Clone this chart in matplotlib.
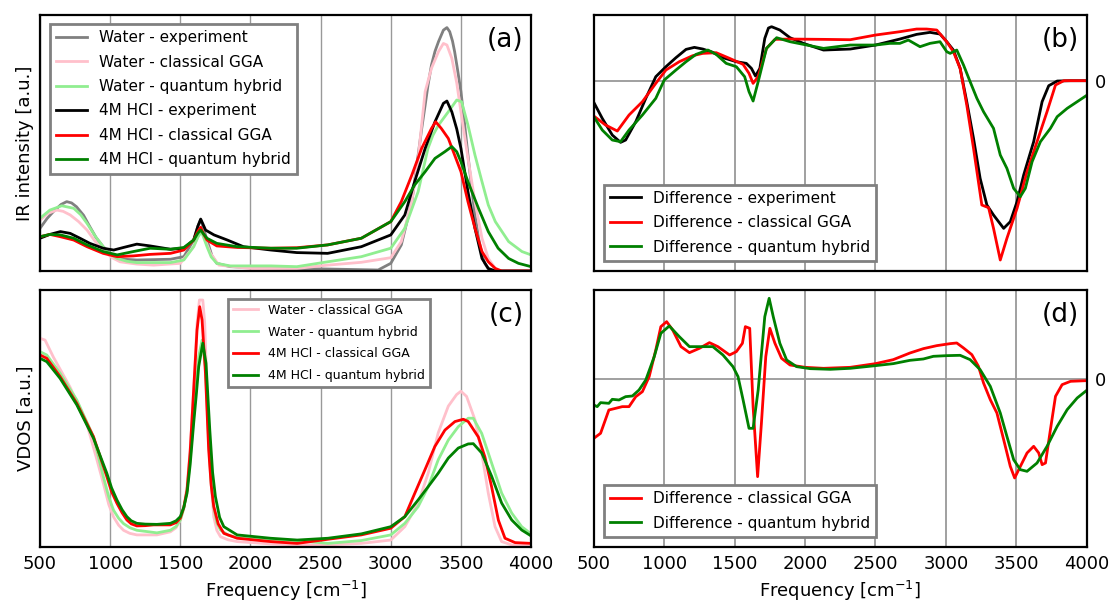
import matplotlib
matplotlib.use("Agg")
import matplotlib.pyplot as plt

# ---- panel (a): IR spectra, intensity in a.u. ----
wexp_f = [500, 550, 595, 650, 690, 725, 760, 810, 855, 900, 950, 1025, 1100, 1190, 1430, 1525, 1595, 1625,
          1645, 1665, 1690, 1725, 1760, 1855, 2000, 2330,
          2910, 3000, 3075, 3150, 3195, 3220, 3245, 3265, 3290, 3315, 3340, 3375, 3400, 3420, 3440, 3455,
          3475, 3500, 3525, 3550, 3575, 3600, 3625, 3650, 3670, 3695, 3745, 4000]
wexp_v = [16.7, 20.5, 23.2, 26.0, 27.1, 26.6, 25.1, 21.8, 17.3, 13.0, 9.5, 5.6, 4.6, 4.3, 4.6, 5.6, 12.1, 17.5,
          20.0, 16.8, 12.1, 6.0, 3.0, 1.7, 1.4, 1.0,
          0.4, 3.0, 10.2, 27.1, 45.3, 55.5, 64.8, 72.5, 80.5, 85.8, 89.6, 94.1, 95.1, 93.5, 89.8, 85.7,
          79.0, 70.1, 58.0, 45.3, 33.0, 21.9, 13.0, 6.3, 3.0, 0.8, 0.0, 0.0]

wgga_f = [500, 560, 620, 665, 715, 775, 835, 890, 950, 1010, 1070, 1190, 1310, 1500, 1595, 1630, 1655, 1685,
          1715, 1775, 2000, 2330,
          2550, 2790, 3000, 3075, 3150, 3195, 3245, 3290, 3340, 3375, 3400, 3435, 3470, 3500, 3550, 3600,
          3650, 3695, 3745, 3790, 4000]
wgga_v = [19.9, 22.6, 23.8, 23.3, 21.9, 19.3, 16.0, 11.8, 8.2, 5.3, 3.6, 2.7, 2.3, 3.0, 9.5, 14.0, 16.0, 11.0,
          6.9, 2.3, 1.0, 1.0,
          2.3, 3.4, 5.2, 11.5, 27.1, 44.0, 70.1, 79.2, 85.7, 88.9, 88.3, 83.1, 73.5, 62.2, 44.0, 27.1,
          12.8, 4.9, 1.0, 0.0, 0.0]

whyb_f = [500, 570, 655, 740, 790, 835, 895, 950, 1000, 1050, 1120, 1190, 1430, 1525, 1595, 1625, 1650, 1670,
          1690, 1720, 1760, 1855, 2145, 2330,
          2550, 2790, 3000, 3100, 3195, 3265, 3300, 3340, 3410, 3470, 3505, 3550, 3600, 3650, 3695, 3745,
          3840, 3935, 4000]
whyb_v = [20.6, 23.8, 25.5, 24.5, 22.0, 18.6, 13.5, 9.5, 6.6, 4.9, 3.8, 3.3, 3.3, 4.3, 9.5, 13.2, 15.4, 12.5,
          9.5, 5.5, 3.0, 2.0, 2.0, 1.7,
          3.6, 5.6, 8.9, 16.7, 31.0, 47.9, 53.0, 57.0, 62.2, 66.8, 66.1, 57.0, 45.3, 34.9, 25.8, 19.3,
          11.5, 7.6, 6.3]

hexp_f = [500, 570, 645, 715, 785, 855, 950, 1025, 1095, 1190, 1285, 1430, 1525, 1595, 1625, 1645, 1660,
          1680, 1740, 1835, 1950, 2145, 2330, 2550, 2790, 3000, 3100, 3170, 3245, 3315, 3375, 3400, 3435,
          3470, 3500, 3550, 3600, 3650, 3695, 3745, 4000]
hexp_v = [12.8, 14.3, 15.4, 14.7, 12.8, 10.8, 8.9, 8.2, 9.2, 10.5, 9.8, 8.5, 8.9, 12.1, 17.5, 20.3, 18.5,
          16.0, 14.1, 12.1, 9.5, 8.2, 7.2, 6.9, 9.5, 14.1, 21.9, 34.9, 47.9, 58.3, 65.5, 66.4, 62.2,
          55.5, 47.9, 31.0, 16.7, 4.9, 1.0, 0.0, 0.0]

hgga_f = [500, 570, 645, 740, 835, 950, 1050, 1165, 1285, 1430, 1525, 1595, 1625, 1645, 1665, 1690, 1760,
          1905, 2145, 2330, 2550, 2790, 3000, 3075, 3150, 3220, 3290, 3320, 3360, 3410, 3455, 3500, 3550,
          3600, 3650, 3695, 3745, 3790, 4000]
hgga_v = [13.4, 14.3, 13.4, 12.1, 9.5, 6.9, 5.6, 5.9, 6.5, 6.9, 8.2, 12.1, 15.5, 17.1, 14.5, 12.1, 9.8,
          9.2, 8.9, 9.1, 10.2, 12.8, 19.3, 27.1, 37.5, 47.9, 55.7, 58.3, 55.7, 51.8, 45.3, 38.8, 27.1,
          16.7, 7.6, 3.6, 1.0, 0.0, 0.0]

hhyb_f = [500, 570, 645, 740, 835, 950, 1050, 1165, 1285, 1430, 1525, 1595, 1625, 1645, 1665, 1690, 1760,
          1905, 2145, 2330, 2550, 2790, 3000, 3100, 3170, 3245, 3315, 3385, 3435, 3470, 3500, 3550, 3625,
          3695, 3765, 3840, 3910, 4000]
hhyb_v = [13.4, 14.3, 14.1, 12.8, 10.2, 7.6, 6.3, 7.6, 8.9, 8.5, 9.2, 12.1, 14.8, 16.0, 14.5, 12.8, 10.8,
          9.5, 8.9, 8.9, 10.2, 12.8, 19.3, 27.1, 33.6, 38.8, 44.0, 46.6, 48.6, 46.6, 42.7, 34.9, 24.5,
          15.4, 8.9, 4.9, 3.0, 1.7]

# ---- panel (b): IR difference HCl - water ----
dexp_f = [500, 560, 631, 690, 726, 798, 869, 940, 1012, 1083, 1155, 1214, 1274, 1345, 1417, 1512, 1583,
          1619, 1648, 1679, 1714, 1740, 1762, 1821, 1893, 1988, 2131, 2321, 2500, 2673, 2792, 2887, 2958,
          3006, 3053, 3101, 3148, 3196, 3243, 3291, 3338, 3410, 3457, 3505, 3552, 3623, 3683, 3730,
          3790, 3885, 4000]
dexp_v = [-0.65, -1.13, -1.63, -1.85, -1.78, -1.23, -0.53, 0.12, 0.42, 0.69, 0.94, 1.00, 0.95, 0.85,
          0.69, 0.57, 0.52, 0.37, 0.14, 0.37, 1.27, 1.58, 1.62, 1.52, 1.29, 1.12, 0.92, 0.95, 1.07, 1.25,
          1.39, 1.45, 1.40, 1.17, 0.92, 0.37, -0.63, -1.73, -2.93, -3.73, -4.03, -4.43, -4.23, -3.63,
          -2.83, -1.83, -0.63, -0.15, -0.01, 0.0, 0.0]

dgga_f = [500, 583, 667, 750, 845, 940, 1012, 1107, 1202, 1274, 1369, 1464, 1560, 1602, 1631, 1667, 1726,
          1786, 1893, 2131, 2321, 2500, 2673, 2792, 2863, 2935, 3006, 3053, 3101, 3148, 3196, 3255,
          3303, 3338, 3386, 3433, 3505, 3576, 3647, 3718, 3778, 3837, 4000]
dgga_v = [-1.06, -1.33, -1.51, -1.03, -0.63, -0.08, 0.32, 0.57, 0.75, 0.82, 0.84, 0.67, 0.49, 0.22,
          -0.08, 0.12, 0.97, 1.24, 1.25, 1.24, 1.23, 1.37, 1.47, 1.55, 1.55, 1.52, 1.17, 0.87, 0.37,
          -0.73, -2.03, -3.73, -3.81, -4.43, -5.38, -4.73, -3.83, -2.73, -1.83, -0.93, -0.13, 0.0, 0.0]

dhyb_f = [500, 560, 631, 690, 750, 845, 940, 1000, 1083, 1155, 1226, 1310, 1369, 1440, 1512, 1571, 1602,
          1631, 1667, 1726, 1798, 1893, 1988, 2131, 2321, 2500, 2602, 2673, 2733, 2816, 2887, 2958,
          3006, 3030, 3077, 3125, 3172, 3220, 3267, 3338, 3386, 3433, 3481, 3528, 3564, 3612, 3671,
          3742, 3790, 3861, 3932, 3996]
dhyb_v = [-1.08, -1.48, -1.78, -1.83, -1.48, -1.03, -0.53, 0.02, 0.32, 0.57, 0.79, 0.92, 0.79, 0.52,
          0.42, 0.12, -0.33, -0.61, -0.03, 0.97, 1.29, 1.17, 1.09, 0.97, 1.07, 1.07, 1.12, 1.12, 1.22,
          1.02, 1.12, 1.17, 0.87, 0.82, 0.92, 0.47, -0.03, -0.53, -0.93, -1.43, -2.23, -2.63, -3.23,
          -3.48, -3.23, -2.43, -1.83, -1.43, -1.08, -0.83, -0.63, -0.45]

# ---- panel (c): VDOS ----
vwgga_f = [500, 536, 595, 714, 833, 900, 952, 990, 1024, 1060, 1095, 1140, 1190, 1333, 1429, 1470, 1500, 1525,
           1548, 1570, 1595, 1619, 1636, 1660, 1674, 1690, 1714, 1738, 1760, 1786, 1840, 1905, 2143, 2333,
           2552, 2790, 3000, 3100, 3195, 3267, 3338, 3410, 3469, 3500, 3540, 3600, 3648, 3695, 3743,
           3790, 3862, 4000]
vwgga_v = [81.2, 80.5, 73.9, 62.2, 48.0, 35.0, 24.6, 16.5, 11.7, 8.5, 6.5, 5.3, 4.7, 4.7, 5.9, 7.5, 10.5, 15.5,
           23.5, 38.0, 61.1, 87.0, 96.1, 96.1, 87.0, 61.1, 28.7, 11.8, 6.5, 4.0, 2.8, 2.1, 1.2, 0.8,
           0.8, 1.4, 2.7, 7.9, 17.0, 28.8, 44.4, 54.8, 59.3, 60.6, 58.6, 49.5, 36.6, 20.9, 7.9,
           2.1, 0.8, 0.5]

vwhyb_f = [500, 548, 643, 762, 881, 952, 990, 1024, 1060, 1095, 1140, 1190, 1333, 1429, 1470, 1500, 1525,
           1548, 1570, 1595, 1615, 1631, 1655, 1679, 1702, 1720, 1738, 1760, 1786, 1840, 1905, 2143, 2333,
           2552, 2790, 3000, 3100, 3195, 3267, 3338, 3410, 3481, 3552, 3588, 3648, 3719, 3790, 3862,
           3933, 4000]
vwhyb_v = [76.0, 74.7, 67.6, 57.2, 42.9, 27.2, 19.5, 14.3, 11.2, 9.1, 7.5, 6.5, 5.5, 6.5, 8.0, 10.5, 15.0,
           22.2, 34.0, 50.7, 64.0, 74.1, 80.5, 70.2, 41.6, 25.0, 15.6, 9.5, 6.6, 4.6, 3.7, 2.7, 2.5,
           1.4, 2.5, 4.7, 9.2, 15.7, 23.5, 33.9, 41.6, 46.8, 50.1, 50.1, 44.2, 32.6, 21.0, 13.2,
           7.9, 5.1]

vhgga_f = [500, 548, 643, 762, 881, 976, 1010, 1048, 1085, 1119, 1150, 1190, 1250, 1310, 1429, 1470, 1500,
           1525, 1548, 1570, 1595, 1619, 1638, 1655, 1679, 1702, 1720, 1738, 1770, 1810, 1905, 2143, 2333,
           2552, 2790, 3000, 3100, 3171, 3243, 3314, 3386, 3457, 3517, 3552, 3624, 3671, 3719, 3767,
           3814, 3886, 4000]
vhgga_v = [74.7, 73.4, 66.3, 55.9, 42.9, 27.4, 21.5, 17.0, 13.3, 10.5, 9.0, 8.2, 8.3, 8.6, 8.6, 9.5, 11.2,
           15.5, 22.2, 37.0, 61.1, 84.4, 93.5, 88.3, 67.6, 37.8, 24.0, 15.8, 9.0, 5.3, 3.4, 2.1, 1.4,
           3.0, 4.7, 7.3, 11.8, 20.9, 30.0, 39.1, 45.5, 48.8, 49.7, 48.8, 42.8, 35.0, 23.3, 10.4,
           3.4, 1.7, 1.4]

vhhyb_f = [500, 548, 643, 762, 881, 976, 1010, 1048, 1085, 1119, 1150, 1190, 1250, 1333, 1429, 1470, 1500,
           1525, 1548, 1570, 1595, 1615, 1631, 1660, 1683, 1710, 1730, 1750, 1780, 1810, 1905, 2143, 2333,
           2552, 2790, 3000, 3100, 3195, 3267, 3338, 3410, 3481, 3552, 3588, 3648, 3719, 3790, 3862,
           3933, 4000]
vhhyb_v = [73.4, 72.1, 65.6, 55.3, 42.3, 28.7, 23.0, 18.3, 14.5, 11.8, 10.2, 9.2, 8.9, 8.8, 9.2, 10.2, 11.8,
           15.5, 21.0, 32.0, 48.1, 60.0, 70.2, 79.3, 71.5, 45.5, 29.0, 19.6, 11.5, 7.9, 4.7, 3.4, 2.7,
           3.4, 5.1, 7.9, 11.8, 18.3, 23.5, 28.7, 34.6, 38.5, 40.1, 40.2, 36.6, 27.5, 17.1, 10.5,
           6.6, 4.3]

# ---- panel (d): VDOS difference HCl - water ----
vdgga_f = [500, 548, 607, 655, 702, 750, 798, 845, 893, 940, 976, 1017, 1060, 1119, 1179, 1250, 1321, 1381,
           1464, 1512, 1555, 1576, 1607, 1631, 1663, 1690, 1721, 1750, 1786, 1833, 1893, 2000, 2131,
           2321, 2500, 2626, 2745, 2840, 2935, 3030, 3077, 3125, 3184, 3231, 3267, 3315, 3362, 3410,
           3457, 3488, 3517, 3576, 3623, 3659, 3683, 3707, 3742, 3778, 3825, 3885, 4000]
vdgga_v = [-1.77, -1.62, -0.92, -0.87, -0.82, -0.82, -0.52, -0.37, 0.08, 0.88, 1.58, 1.73, 1.48, 0.98,
           0.80, 0.93, 1.10, 0.98, 0.73, 0.83, 1.08, 1.58, 1.53, -0.82, -2.92, -1.32, 0.68, 1.53, 1.08,
           0.63, 0.43, 0.36, 0.33, 0.36, 0.47, 0.59, 0.79, 0.92, 1.01, 1.07, 1.09, 0.94, 0.74, 0.39,
           -0.11, -0.61, -1.01, -1.81, -2.61, -2.96, -2.71, -2.21, -2.01, -2.21, -2.56, -2.51, -1.51,
           -0.51, -0.16, -0.06, -0.04]

vdhyb_f = [500, 524, 548, 607, 631, 679, 726, 774, 821, 869, 929, 976, 1036, 1107, 1179, 1274, 1345, 1417,
           1488, 1524, 1560, 1602, 1631, 1667, 1714, 1745, 1774, 1821, 1869, 1940, 2036, 2179, 2321,
           2500, 2626, 2745, 2840, 2911, 3006, 3101, 3172, 3243, 3315, 3386, 3433, 3481, 3528, 3576,
           3647, 3718, 3790, 3861, 3932, 4000]
vdhyb_v = [-0.77, -0.82, -0.70, -0.72, -0.60, -0.62, -0.52, -0.50, -0.32, -0.02, 0.68, 1.38, 1.60, 1.28,
           0.98, 0.98, 0.98, 0.73, 0.38, 0.08, -0.62, -1.47, -1.47, -0.32, 1.88, 2.43, 1.88, 1.08, 0.58,
           0.38, 0.32, 0.30, 0.33, 0.41, 0.47, 0.57, 0.61, 0.69, 0.71, 0.72, 0.59, 0.29, -0.21, -1.01,
           -1.71, -2.41, -2.71, -2.76, -2.51, -2.01, -1.41, -0.91, -0.56, -0.33]

freq_ticks = [500, 1000, 1500, 2000, 2500, 3000, 3500, 4000]

fig = plt.figure(figsize=(11.12, 6.04), dpi=100)
ax_a = fig.add_axes([0.036, 0.5513, 0.4416, 0.4238])
ax_b = fig.add_axes([0.534, 0.5513, 0.4433, 0.4238])
ax_c = fig.add_axes([0.036, 0.0944, 0.4416, 0.4255])
ax_d = fig.add_axes([0.534, 0.0944, 0.4433, 0.4255])

lw = 2

ax_a.plot(wexp_f, wexp_v, color="gray", lw=lw, label="Water - experiment")
ax_a.plot(wgga_f, wgga_v, color="pink", lw=lw, label="Water - classical GGA")
ax_a.plot(whyb_f, whyb_v, color="lightgreen", lw=lw, label="Water - quantum hybrid")
ax_a.plot(hexp_f, hexp_v, color="black", lw=lw, label="4M HCl - experiment")
ax_a.plot(hgga_f, hgga_v, color="red", lw=lw, label="4M HCl - classical GGA")
ax_a.plot(hhyb_f, hhyb_v, color="green", lw=lw, label="4M HCl - quantum hybrid")
ax_a.set_ylim(0, 100)
ax_a.set_ylabel("IR intensity [a.u.]", fontsize=13)

ax_b.plot(dexp_f, dexp_v, color="black", lw=lw, label="Difference - experiment")
ax_b.plot(dgga_f, dgga_v, color="red", lw=lw, label="Difference - classical GGA")
ax_b.plot(dhyb_f, dhyb_v, color="green", lw=lw, label="Difference - quantum hybrid")
ax_b.set_ylim(-5.71, 1.97)

ax_c.plot(vwgga_f, vwgga_v, color="pink", lw=lw, label="Water - classical GGA")
ax_c.plot(vwhyb_f, vwhyb_v, color="lightgreen", lw=lw, label="Water - quantum hybrid")
ax_c.plot(vhgga_f, vhgga_v, color="red", lw=lw, label="4M HCl - classical GGA")
ax_c.plot(vhhyb_f, vhhyb_v, color="green", lw=lw, label="4M HCl - quantum hybrid")
ax_c.set_ylim(0, 100)
ax_c.set_ylabel("VDOS [a.u.]", fontsize=13)

ax_d.plot(vdgga_f, vdgga_v, color="red", lw=lw, label="Difference - classical GGA")
ax_d.plot(vdhyb_f, vdhyb_v, color="green", lw=lw, label="Difference - quantum hybrid")
ax_d.set_ylim(-5.03, 2.68)

for ax, tag in zip([ax_a, ax_b, ax_c, ax_d], ["(a)", "(b)", "(c)", "(d)"]):
    ax.set_xlim(500, 4000)
    ax.set_xticks(freq_ticks)
    ax.grid(axis="x", color="#999999", lw=1)
    ax.set_axisbelow(True)
    ax.tick_params(length=0, labelsize=13, pad=6)
    for s in ax.spines.values():
        s.set_linewidth(1.6)
    ax.text(0.985, 0.955, tag, transform=ax.transAxes, ha="right", va="top", fontsize=19)

for ax in [ax_a, ax_c]:
    ax.set_yticks([])

for ax in [ax_b, ax_d]:
    ax.yaxis.tick_right()
    ax.set_yticks([0])
    ax.grid(axis="y", color="#999999", lw=1.3)
    ax.grid(axis="x", color="#999999", lw=1.3)

for ax in [ax_a, ax_b]:
    ax.set_xticklabels([])
for ax in [ax_c, ax_d]:
    ax.set_xlabel("Frequency [cm$^{-1}$]", fontsize=13)

leg_kw = dict(fancybox=False, edgecolor="gray", framealpha=1, handlelength=2.0, borderpad=0.4)
la = ax_a.legend(loc="upper left", fontsize=11, labelspacing=0.62, bbox_to_anchor=(0.005, 0.995), **leg_kw)
lb = ax_b.legend(loc="lower left", fontsize=11, labelspacing=0.62, bbox_to_anchor=(0.005, 0.01), **leg_kw)
lc = ax_c.legend(loc="upper left", fontsize=9, labelspacing=0.7, bbox_to_anchor=(0.37, 0.99), **leg_kw)
ld = ax_d.legend(loc="lower left", fontsize=11, labelspacing=0.62, bbox_to_anchor=(0.005, 0.01), **leg_kw)
for lg in [la, lb, lc, ld]:
    lg.get_frame().set_linewidth(2)

fig.savefig("out.png", dpi=100)
